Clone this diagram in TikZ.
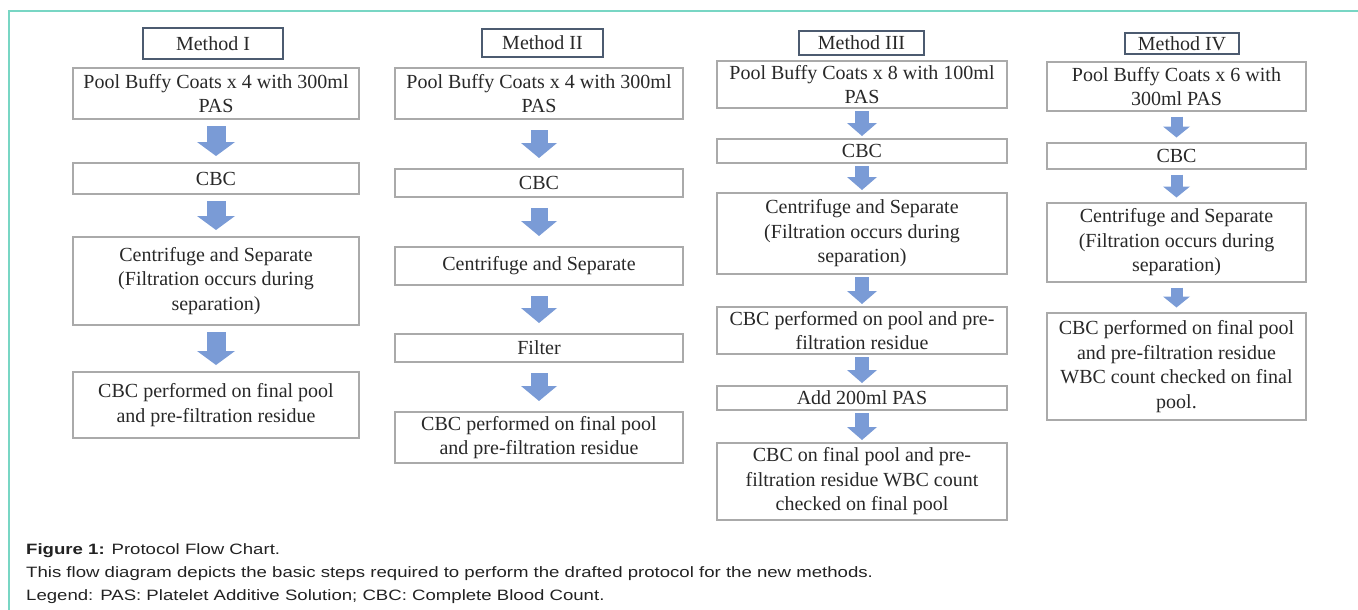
\documentclass[tikz,border=0pt]{standalone}
\usepackage{fontspec}
\setmainfont{Liberation Serif}
\newfontfamily\capfont[FakeStretch=1.24]{Liberation Sans}
\usetikzlibrary{arrows.meta}
\definecolor{frameteal}{RGB}{120,214,196}
\definecolor{boxgray}{RGB}{170,170,170}
\definecolor{headblue}{RGB}{76,91,112}
\definecolor{arrowblue}{RGB}{122,155,214}
\definecolor{txtgray}{RGB}{40,40,40}
\definecolor{captxt}{RGB}{34,34,34}
\tikzset{
  stepbox/.style={draw=boxgray, line width=1.3pt, inner sep=0pt, outer sep=0pt,
    align=center, text=txtgray, font=\fontsize{20}{24.5}\selectfont},
  headbox/.style={draw=headblue, line width=1.8pt, inner sep=0pt, outer sep=0pt,
    align=center, text=txtgray, font=\fontsize{20}{24.5}\selectfont},
  flowA/.style={draw=arrowblue, line width=19pt, shorten <=7pt, shorten >=7pt,
    -{Triangle[length=14pt,width=38pt,line width=0pt]}},
  flowB/.style={draw=arrowblue, line width=17pt, shorten <=11pt, shorten >=11pt,
    -{Triangle[length=15pt,width=36pt,line width=0pt]}},
  flowC/.style={draw=arrowblue, line width=14pt, shorten <=3pt, shorten >=3pt,
    -{Triangle[length=13pt,width=30pt,line width=0pt]}},
  flowD/.style={draw=arrowblue, line width=12pt, shorten <=5.5pt, shorten >=5.5pt,
    -{Triangle[length=11pt,width=27pt,line width=0pt]}},
  captext/.style={anchor=base west, inner sep=0pt, text=captxt,
    font=\capfont\fontsize{15}{18}\selectfont},
}
\begin{document}
\begin{tikzpicture}[x=1pt,y=-1pt]
\useasboundingbox (0,0) rectangle (1358,610);
\draw[frameteal, line width=2pt] (9,610) -- (9,11) -- (1358,11);

% Method I
\node[headbox, minimum width=140pt, minimum height=31pt] (h1) at (213,43.5) {Method I};
\node[stepbox, minimum width=286pt, minimum height=51pt] (p1) at (216,93.5) {Pool Buffy Coats x 4 with 300ml\\PAS};
\node[stepbox, minimum width=286pt, minimum height=31pt] (c1) at (216,178.5) {CBC};
\node[stepbox, minimum width=286pt, minimum height=88pt] (s1) at (216,281) {Centrifuge and Separate\\(Filtration occurs during\\separation)};
\node[stepbox, minimum width=286pt, minimum height=66pt] (f1) at (216,405) {CBC performed on final pool\\and pre-filtration residue};
\draw[flowA] (p1) -- (c1);
\draw[flowA] (c1) -- (s1);
\draw[flowA] (s1) -- (f1);

% Method II
\node[headbox, minimum width=121pt, minimum height=28pt] (h2) at (542.5,43) {Method II};
\node[stepbox, minimum width=288pt, minimum height=51pt] (p2) at (539,93.5) {Pool Buffy Coats x 4 with 300ml\\PAS};
\node[stepbox, minimum width=288pt, minimum height=28pt] (c2) at (539,183) {CBC};
\node[stepbox, minimum width=288pt, minimum height=38pt] (s2) at (539,266) {Centrifuge and Separate};
\node[stepbox, minimum width=288pt, minimum height=28pt] (fl2) at (539,348) {Filter};
\node[stepbox, minimum width=288pt, minimum height=51pt] (f2) at (539,437.5) {CBC performed on final pool\\and pre-filtration residue};
\draw[flowB] (p2) -- (c2);
\draw[flowB] (c2) -- (s2);
\draw[flowB] (s2) -- (fl2);
\draw[flowB] (fl2) -- (f2);

% Method III
\node[headbox, minimum width=125pt, minimum height=24pt] (h3) at (861.5,43) {Method III};
\node[stepbox, minimum width=290pt, minimum height=47pt] (p3) at (862,84.5) {Pool Buffy Coats x 8 with 100ml\\PAS};
\node[stepbox, minimum width=290pt, minimum height=24pt] (c3) at (862,151) {CBC};
\node[stepbox, minimum width=290pt, minimum height=81pt] (s3) at (862,233.5) {Centrifuge and Separate\\(Filtration occurs during\\separation)};
\node[stepbox, minimum width=290pt, minimum height=47pt] (r3) at (862,330.5) {CBC performed on pool and pre-\\filtration residue};
\node[stepbox, minimum width=290pt, minimum height=24pt] (a3) at (862,398) {Add 200ml PAS};
\node[stepbox, minimum width=290pt, minimum height=77pt] (f3) at (862,481.5) {CBC on final pool and pre-\\filtration residue WBC count\\checked on final pool};
\draw[flowC] (p3) -- (c3);
\draw[flowC] (c3) -- (s3);
\draw[flowC] (s3) -- (r3);
\draw[flowC] (r3) -- (a3);
\draw[flowC] (a3) -- (f3);

% Method IV
\node[headbox, minimum width=114pt, minimum height=21pt] (h4) at (1182,43.5) {Method IV};
\node[stepbox, minimum width=259pt, minimum height=49pt] (p4) at (1176.5,86.5) {Pool Buffy Coats x 6 with\\300ml PAS};
\node[stepbox, minimum width=259pt, minimum height=26pt] (c4) at (1176.5,156) {CBC};
\node[stepbox, minimum width=259pt, minimum height=79pt] (s4) at (1176.5,242.5) {Centrifuge and Separate\\(Filtration occurs during\\separation)};
\node[stepbox, minimum width=259pt, minimum height=107pt] (f4) at (1176.5,366.5) {CBC performed on final pool\\and pre-filtration residue\\WBC count checked on final\\pool.};
\draw[flowD] (p4) -- (c4);
\draw[flowD] (c4) -- (s4);
\draw[flowD] (s4) -- (f4);

% Caption
\node[captext] (cap1) at (26,554) {\textbf{Figure 1:} Protocol Flow Chart.};
\node[captext] (cap2) at (26,577) {This flow diagram depicts the basic steps required to perform the drafted protocol for the new methods.};
\node[captext] (cap3) at (26,600) {Legend: PAS: Platelet Additive Solution; CBC: Complete Blood Count.};
\end{tikzpicture}
\end{document}
